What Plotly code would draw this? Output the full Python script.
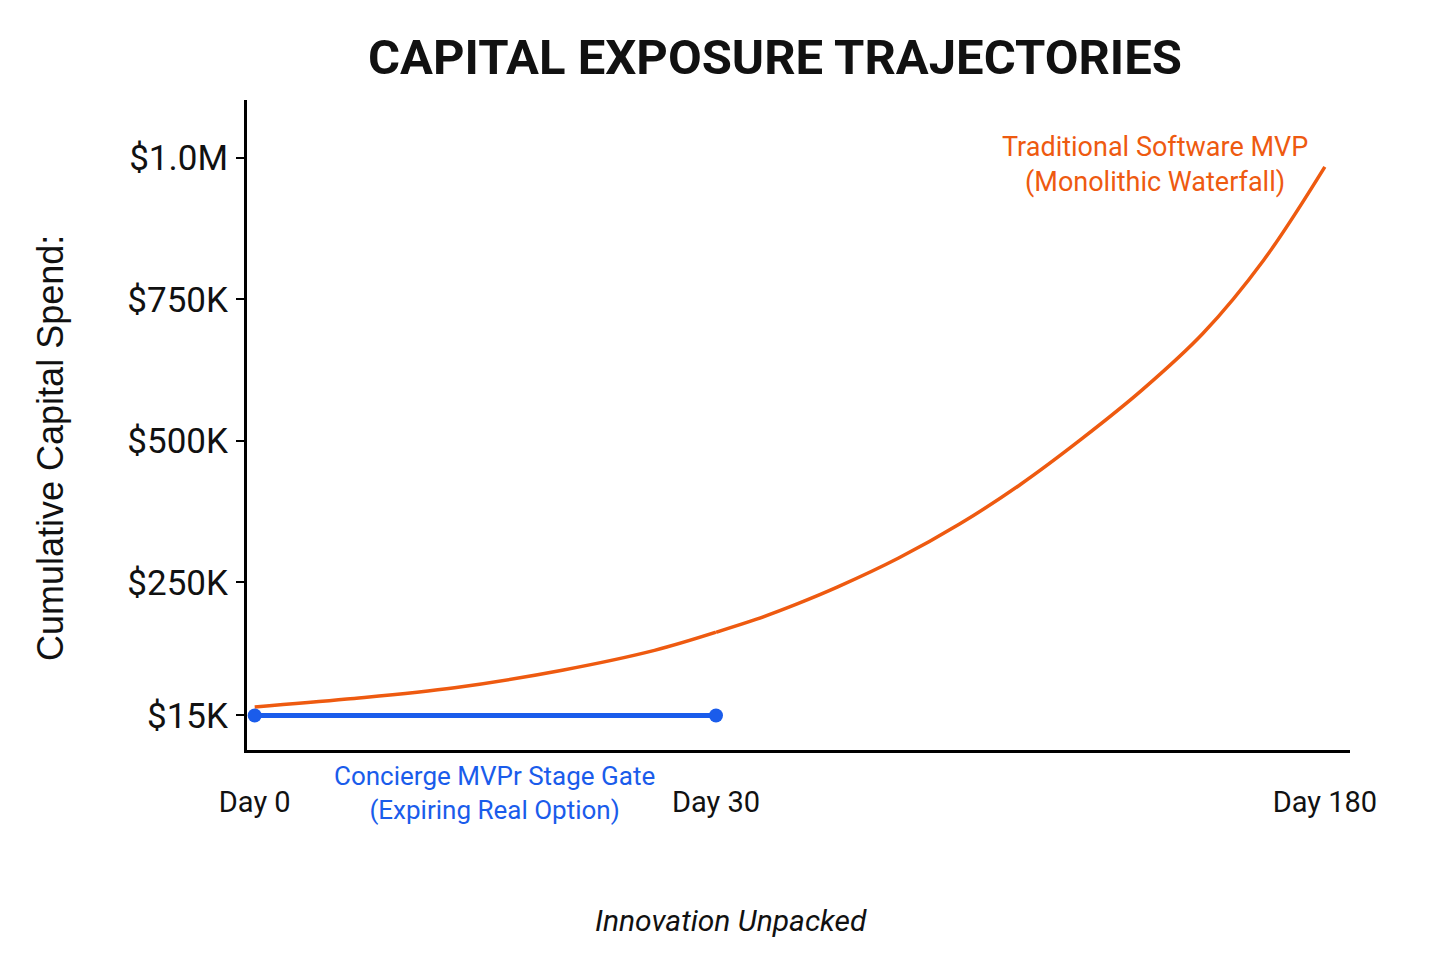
import plotly.graph_objects as go

# ------------ Data ------------
# Traditional MVP: cumulative spend ($) by day
TRAD_DAYS_EARLY = [0, 6, 13, 20, 26, 30]
TRAD_SPEND_EARLY = [30000, 44000, 64000, 95000, 130000, 162000]
TRAD_DAYS_LATE = [30, 40, 50, 60, 75, 90, 105, 120, 135, 150, 165, 180]
TRAD_SPEND_LATE = [162000, 185000, 212000, 242000, 293000, 353000,
                   423000, 503000, 590000, 690000, 820000, 984000]

# Concierge MVPr: flat spend until the day-30 gate
CONC_DAYS = [0, 30]
CONC_SPEND = [15000, 15000]

Y_TICKS = [15000, 250000, 500000, 750000, 1000000]
Y_TICKTEXT = ["$15K", "$250K", "$500K", "$750K", "$1.0M"]
X1_TICKS, X1_TICKTEXT = [0, 30], ["Day 0", "Day 30"]
X2_TICKS, X2_TICKTEXT = [180], ["Day 180"]

# ------------ Styles ------------
ORANGE = "#EE5A10"
BLUE = "#1A5CEB"
FONT = "Roboto"
# page body adds an 8px margin, so the figure is drawn 16px smaller
W, H = 1440, 955
MARGIN = dict(l=239, r=98, t=92, b=213)
PW, PH = W - MARGIN["l"] - MARGIN["r"], H - MARGIN["t"] - MARGIN["b"]
SPLIT = 0.4252  # broken time axis: days 0-30 stretched on the left part


def px(x, y):
    """page pixel (reference picture) -> paper coords"""
    return (x - 247) / PW, (750 - y) / PH


fig = go.Figure()

fig.add_trace(go.Scatter(
    x=TRAD_DAYS_EARLY, y=TRAD_SPEND_EARLY, mode="lines",
    line=dict(color=ORANGE, width=3.5, shape="spline"),
    xaxis="x", yaxis="y", hoverinfo="skip",
))
fig.add_trace(go.Scatter(
    x=TRAD_DAYS_LATE, y=TRAD_SPEND_LATE, mode="lines",
    line=dict(color=ORANGE, width=3.5, shape="spline"),
    xaxis="x2", yaxis="y", hoverinfo="skip",
))
fig.add_trace(go.Scatter(
    x=CONC_DAYS, y=CONC_SPEND, mode="lines+markers",
    line=dict(color=BLUE, width=5),
    marker=dict(color=BLUE, size=14),
    cliponaxis=False,
    xaxis="x", yaxis="y", hoverinfo="skip",
))

axis_common = dict(
    showgrid=False, zeroline=False, showline=True,
    linecolor="black", linewidth=3, ticks="",
    tickfont=dict(family=FONT, size=29, color="#111"),
    ticklabelstandoff=24,
)

fig.update_layout(
    width=W, height=H,
    margin=MARGIN,
    paper_bgcolor="white",
    plot_bgcolor="white",
    showlegend=False,
    font=dict(family=FONT, color="#111"),
    title=dict(
        text="<b>CAPITAL EXPOSURE TRAJECTORIES</b>",
        font=dict(family=FONT, size=49, color="#111"),
        x=(775 - 8) / W, xanchor="center", y=1 - (57 - 8) / H, yanchor="middle",
        xref="container", yref="container",
    ),
    xaxis=dict(domain=[0, SPLIT], range=[-0.5, 30],
               tickvals=X1_TICKS, ticktext=X1_TICKTEXT, anchor="y",
               **axis_common),
    xaxis2=dict(domain=[SPLIT, 1], range=[30, 186.2],
                tickvals=X2_TICKS, ticktext=X2_TICKTEXT, anchor="y",
                **axis_common),
    yaxis=dict(
        range=[-46000, 1102000], anchor="x",
        tickvals=Y_TICKS, ticktext=Y_TICKTEXT,
        showgrid=False, zeroline=False, showline=True,
        linecolor="black", linewidth=3,
        ticks="outside", ticklen=8, tickwidth=2, tickcolor="black",
        tickfont=dict(family=FONT, size=35, color="#111"),
        ticklabelstandoff=1,
    ),
)

# y axis title, labels and footer
ax, ay = px(50, 448)
fig.add_annotation(
    text="Cumulative Capital Spend:", textangle=-90,
    xref="paper", yref="paper", x=ax, y=ay, xanchor="center", yanchor="middle",
    showarrow=False, font=dict(family="Liberation Sans", size=36, color="#111"),
)
ax, ay = px(1155, 164)
fig.add_annotation(
    text="Traditional Software MVP<br>(Monolithic Waterfall)",
    xref="paper", yref="paper", x=ax, y=ay, xanchor="center", yanchor="middle",
    showarrow=False, font=dict(family=FONT, size=27, color=ORANGE),
)
ax, ay = px(494, 793)
fig.add_annotation(
    text="Concierge MVPr Stage Gate<br>(Expiring Real Option)",
    xref="paper", yref="paper", x=ax, y=ay, xanchor="center", yanchor="middle",
    showarrow=False, font=dict(family=FONT, size=26, color=BLUE),
)
ax, ay = px(731, 920)
fig.add_annotation(
    text="<i>Innovation Unpacked</i>",
    xref="paper", yref="paper", x=ax, y=ay, xanchor="center", yanchor="middle",
    showarrow=False, font=dict(family=FONT, size=30, color="#111"),
)

fig.write_html("out.html")
